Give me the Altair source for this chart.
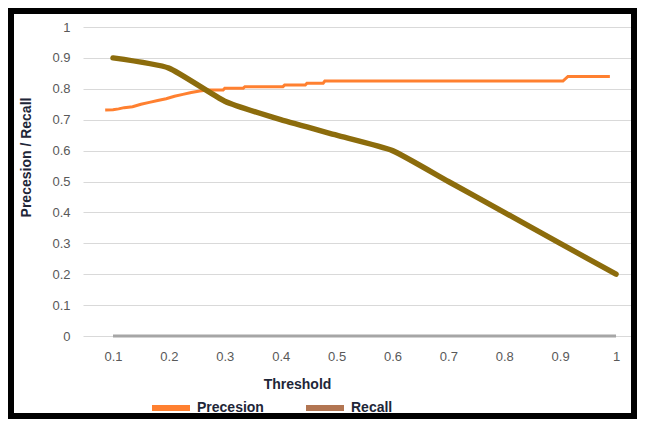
import altair as alt
import pandas as pd

# ---- data ----
thresholds = [0.1, 0.2, 0.3, 0.4, 0.5, 0.6, 0.7, 0.8, 0.9, 1.0]
recall = [0.90, 0.867, 0.76, 0.70, 0.65, 0.60, 0.50, 0.40, 0.30, 0.20]
zero_series = [0, 0, 0, 0, 0, 0, 0, 0, 0, 0]

precision_thr = [0.086, 0.100, 0.110, 0.120, 0.135, 0.150, 0.165, 0.180, 0.195,
                 0.210, 0.225, 0.240, 0.255, 0.270, 0.297, 0.300, 0.333, 0.336,
                 0.404, 0.407, 0.444, 0.447, 0.476, 0.479, 0.905, 0.914, 0.989]
precision = [0.731, 0.732, 0.735, 0.739, 0.742, 0.750, 0.756, 0.762, 0.768,
             0.776, 0.782, 0.788, 0.793, 0.796, 0.796, 0.802, 0.802, 0.807,
             0.807, 0.812, 0.812, 0.818, 0.818, 0.825, 0.825, 0.840, 0.840]

y_ticks = [0, 0.1, 0.2, 0.3, 0.4, 0.5, 0.6, 0.7, 0.8, 0.9, 1.0]
legend_labels = ["Precesion", "Recall"]

ORANGE = "#FF8030"
OLIVE = "#8C6C0C"
BROWN = "#B27552"
GREY = "#A6A6A6"
TEXT = "#1E2638"

prec_df = pd.DataFrame({"Threshold": precision_thr, "value": precision, "series": legend_labels[0]})
rec_df = pd.DataFrame({"Threshold": thresholds, "value": recall, "series": legend_labels[1]})
zero_df = pd.DataFrame({"Threshold": thresholds, "value": zero_series})
legend_df = pd.concat([prec_df, rec_df], ignore_index=True)

W, H = 548, 309

x_enc = alt.X(
    "Threshold:Q",
    scale=alt.Scale(domain=[0.0463, 1.0268], nice=False, zero=False),
    axis=alt.Axis(
        values=thresholds, format=".1~f", grid=False, domain=False, ticks=False,
        labelOverlap=False, labelPadding=14, labelFontSize=13, labelColor="#595959",
        labelFont="Liberation Sans",
        title="Threshold", titleFontSize=14, titleFontWeight="bold", titleColor=TEXT,
        titleFont="Liberation Sans", titleX=214, titleY=48, titleBaseline="middle",
        titleAlign="center",
    ),
)
y_enc = alt.Y(
    "value:Q",
    scale=alt.Scale(domain=[0, 1], nice=False),
    axis=alt.Axis(
        values=y_ticks, format=".1~f", grid=True, gridColor="#D9D9D9", gridWidth=1,
        domain=False, ticks=False, labelOverlap=False, labelPadding=13, labelFontSize=13,
        labelColor="#595959", labelFont="Liberation Sans",
        title="Precesion / Recall", titleFontSize=14, titleFontWeight="bold",
        titleColor=TEXT, titleFont="Liberation Sans", titleX=-57, titleY=130,
        titleAngle=270, titleAlign="center", titleBaseline="middle",
    ),
)

zero_line = alt.Chart(zero_df).mark_line(color=GREY, strokeWidth=3).encode(x=x_enc, y=y_enc)

prec_line = alt.Chart(prec_df).mark_line(color=ORANGE, strokeWidth=3).encode(x=x_enc, y=y_enc)

rec_line = alt.Chart(rec_df).mark_line(
    color=OLIVE, strokeWidth=5.5, interpolate="cardinal", tension=0.5, strokeCap="round"
).encode(x=x_enc, y=y_enc)

legend_layer = alt.Chart(legend_df).mark_line(strokeOpacity=0).encode(
    x=x_enc,
    y=y_enc,
    color=alt.Color(
        "series:N",
        scale=alt.Scale(domain=legend_labels, range=[ORANGE, BROWN]),
        legend=alt.Legend(
            title=None, orient="none", legendX=66, legendY=359, offset=0,
            direction="horizontal",
            symbolType="stroke", symbolSize=1444, symbolStrokeWidth=6, symbolOpacity=1,
            labelFontSize=14, labelFontWeight="bold", labelColor=TEXT, labelOpacity=1,
            labelFont="Liberation Sans", labelOffset=4, columnPadding=30, padding=0,
        ),
    ),
)

frame = alt.Chart(pd.DataFrame({"frame": [1]})).mark_rect(
    filled=False, stroke="black", strokeWidth=6
).encode(x=alt.value(-72), x2=alt.value(551), y=alt.value(-16), y2=alt.value(389))

chart = alt.layer(zero_line, legend_layer, prec_line, rec_line, frame).properties(
    width=W, height=H,
    autosize=alt.AutoSizeParams(type="none"),
    padding={"left": 75, "top": 19, "right": 6, "bottom": 83},
    background="white",
).configure_view(stroke=None)

chart.save("out.html", embed_options={"renderer": "svg", "actions": False})
